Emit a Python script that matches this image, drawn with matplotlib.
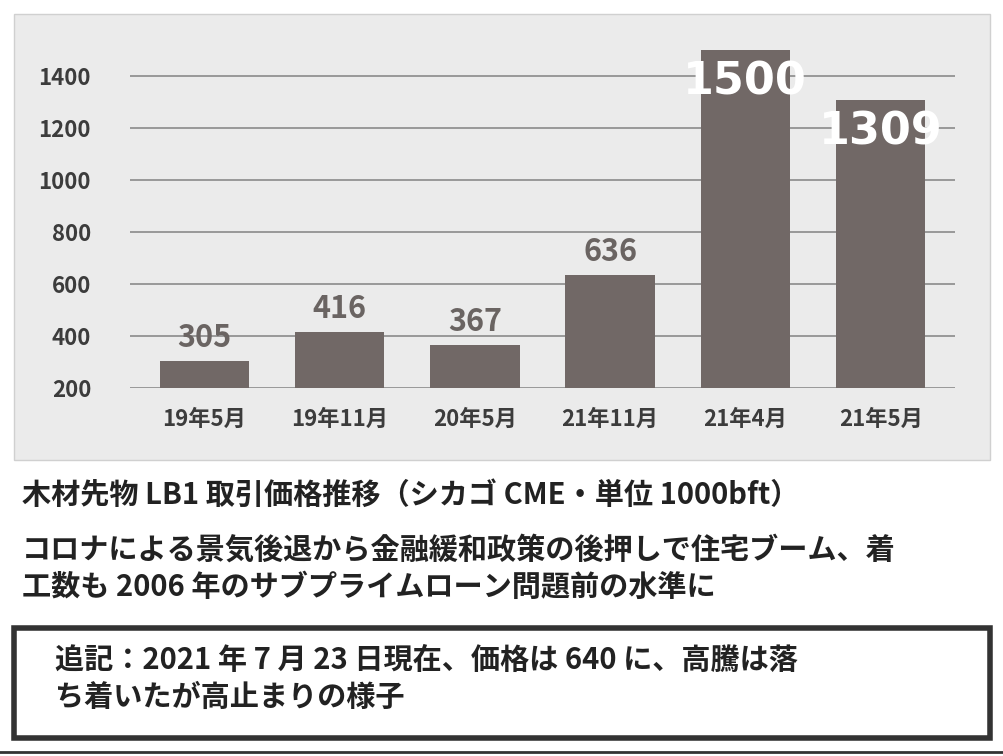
import matplotlib
matplotlib.use("Agg")
import matplotlib.pyplot as plt
from matplotlib.patches import Rectangle

plt.rcParams["font.family"] = "Noto Sans CJK JP"

categories = ["19年5月", "19年11月", "20年5月", "21年11月", "21年4月", "21年5月"]
values = [305, 416, 367, 636, 1500, 1309]
yticks = [200, 400, 600, 800, 1000, 1200, 1400]

W, H = 1004, 756
fig = plt.figure(figsize=(W / 100, H / 100), dpi=100)

def fx(x):
    return x / W

def fy(y):
    return 1 - y / H

# gray chart panel (behind the axes)
fig.patches.append(Rectangle((fx(14), fy(460)), fx(976), 446 / H, transform=fig.transFigure,
                             facecolor="#ebebeb", edgecolor="#d0d0d0", zorder=-10))

ax = fig.add_axes([fx(130), fy(388), fx(825), (388 - 14) / H])
ax.set_zorder(5)
ax.set_facecolor("none")
x = range(len(categories))
ax.bar(x, values, width=0.66, color="#716866", zorder=3)
ax.set_ylim(200, 1640)
ax.set_xlim(-0.55, 5.55)
ax.set_yticks(yticks)
ax.set_yticklabels([str(v) for v in yticks], fontsize=16, fontweight="bold", color="#3c3c3c")
ax.set_xticks(list(x))
ax.set_xticklabels(categories, fontsize=16, fontweight="bold", color="#3c3c3c")
ax.tick_params(length=0, axis="y", pad=28)
ax.tick_params(length=0, axis="x", pad=14)
ax.grid(axis="y", color="#8a8a8a", linewidth=1.2, zorder=0)
for s in ax.spines.values():
    s.set_visible(False)

for i, v in enumerate(values):
    if v >= 1000:
        ax.text(i, v - 40, str(v), ha="center", va="top", fontsize=32, fontweight="bold",
                color="white", family="Liberation Sans Narrow", zorder=4)
    else:
        ax.text(i, v + 25, str(v), ha="center", va="bottom", fontsize=22, fontweight="bold",
                color="#6a6462", zorder=4)

fs = 21
fig.text(fx(22), fy(495), "木材先物 LB1 取引価格推移（シカゴ CME・単位 1000bft）",
         fontsize=fs, fontweight="bold", color="#222222", va="center")
fig.text(fx(22), fy(550), "コロナによる景気後退から金融緩和政策の後押しで住宅ブーム、着",
         fontsize=fs, fontweight="bold", color="#222222", va="center")
fig.text(fx(22), fy(587), "工数も 2006 年のサブプライムローン問題前の水準に",
         fontsize=fs, fontweight="bold", color="#222222", va="center")

fig.patches.append(Rectangle((fx(14), fy(738)), fx(976), 110 / H, transform=fig.transFigure,
                             facecolor="white", edgecolor="#333333", linewidth=4))
fig.text(fx(55), fy(660), "追記：2021 年 7 月 23 日現在、価格は 640 に、高騰は落",
         fontsize=fs, fontweight="bold", color="#222222", va="center")
fig.text(fx(55), fy(697), "ち着いたが高止まりの様子",
         fontsize=fs, fontweight="bold", color="#222222", va="center")
fig.lines.append(plt.Line2D([0, 1], [fy(752), fy(752)], transform=fig.transFigure,
                            color="#333333", linewidth=2))

fig.savefig("out.png", dpi=100)
